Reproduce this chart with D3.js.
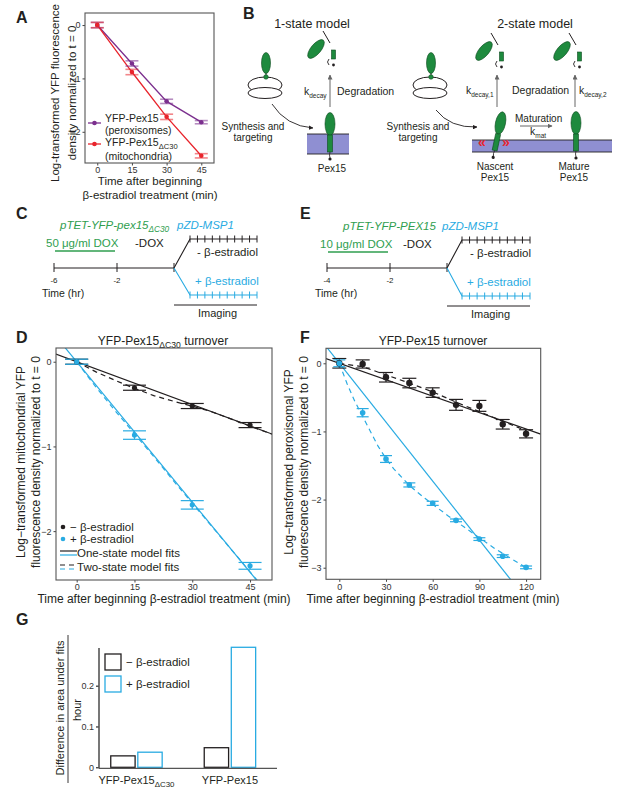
<!DOCTYPE html>
<html>
<head>
<meta charset="utf-8">
<script src="https://cdn.jsdelivr.net/npm/d3@7"></script>
<style>
  body { margin: 0; background: #fff; }
  svg { font-family: "Liberation Sans", Arial, sans-serif; }
</style>
</head>
<body>
<svg id="fig" width="617" height="799"></svg>
<script>
// ---------- data ----------
// A
const timesA = [0, 15, 30, 45];
const pexA = [0, -0.72, -1.43, -1.82];
const pexErrA = [0.05, 0.05, 0.04, 0.03];
const dc30A = [0, -0.88, -1.72, -2.45];
const dc30ErrA = [0.05, 0.05, 0.05, 0.04];

// D
const timesD = [0, 15, 30, 45];
const minusD = [0, -0.307, -0.523, -0.748];
const minusErrD = [0.03, 0.03, 0.03, 0.03];
const plusD = [0, -0.866, -1.69, -2.41];
const plusErrD = [0.03, 0.05, 0.05, 0.04];
const oneFitTD = [-5.4, 50.7];
const oneMinusD = [0.09, -0.854];
const onePlusD = [0.298, -2.8];
const twoFitTD = [0, 5, 10, 15, 20, 25, 30, 35, 40, 45, 50.7];
const twoMinusD = [0, -0.12, -0.22, -0.315, -0.4, -0.465, -0.525, -0.59, -0.675, -0.76, -0.855];
const twoPlusD = [0, -0.3, -0.58, -0.85, -1.12, -1.4, -1.67, -1.94, -2.21, -2.48, -2.79];

// F
const timesF = [0, 15, 30, 45, 60, 75, 90, 105, 120];
const minusF = [0, -0.01, -0.205, -0.29, -0.43, -0.61, -0.625, -0.895, -1.035];
const minusErrF = [0.07, 0.06, 0.07, 0.07, 0.07, 0.08, 0.08, 0.07, 0.06];
const plusF = [0, -0.725, -1.405, -1.785, -2.055, -2.305, -2.58, -2.83, -2.995];
const plusErrF = [0.05, 0.06, 0.05, 0.03, 0.03, 0.02, 0.02, 0.02, 0.02];
const oneFitTF = [-8.6, 129.4];
const oneMinusF = [0.07, -1.04];
const onePlusF = [0.25, -3.73];
const twoMinusTF = [0, 15, 30, 45, 60, 75, 90, 105, 120];
const twoMinusF = [0, -0.05, -0.17, -0.29, -0.42, -0.57, -0.71, -0.85, -0.99];
const twoPlusTF = [0, 5, 10, 15, 20, 25, 30, 35, 40, 45, 50, 55, 60, 70, 80, 90, 100, 110, 120];
const twoPlusF = [0, -0.3, -0.56, -0.78, -1.0, -1.22, -1.4, -1.55, -1.67, -1.79, -1.89, -1.98, -2.07, -2.24, -2.4, -2.56, -2.72, -2.86, -3.0];

// G
const catsG = ["YFP-Pex15ΔC30", "YFP-Pex15"];
const minusG = [0.028, 0.048];
const plusG = [0.037, 0.294];
const ticksG = [0, 0.1, 0.2];

// ---------- styling ----------
const ink = "#231f20";
const purple = "#7b2f8e", red = "#e8242c", blue = "#29abe2";
const green = "#1e8a3e", textGreen = "#2f9e4f", lav = "#8f8fd2";
const fontFam = '"Liberation Sans", Arial, sans-serif';

const svg = d3.select("#fig");
const defs = svg.append("defs");
defs.append("marker").attr("id", "headk").attr("viewBox", "0 0 10 10")
  .attr("refX", 9).attr("refY", 5).attr("markerWidth", 5).attr("markerHeight", 5)
  .attr("orient", "auto")
  .append("path").attr("d", "M0,0L10,5L0,10Z").attr("fill", ink);
defs.append("marker").attr("id", "headg").attr("viewBox", "0 0 10 10")
  .attr("refX", 9).attr("refY", 5).attr("markerWidth", 5).attr("markerHeight", 5)
  .attr("orient", "auto")
  .append("path").attr("d", "M0,0L10,5L0,10Z").attr("fill", "#666");

function txt(x, y, s, size, opt = {}) {
  return svg.append("text").attr("x", x).attr("y", y).attr("font-size", size)
    .attr("fill", opt.fill || ink).attr("text-anchor", opt.anchor || "start")
    .attr("font-weight", opt.bold ? "bold" : null)
    .attr("font-style", opt.italic ? "italic" : null)
    .text(s);
}
// text with subscript part
function subTxt(x, y, main, sub, after, size, opt = {}) {
  const t = svg.append("text").attr("x", x).attr("y", y).attr("font-size", size)
    .attr("fill", opt.fill || ink).attr("text-anchor", opt.anchor || "start")
    .attr("font-style", opt.italic ? "italic" : null);
  t.append("tspan").text(main);
  t.append("tspan").attr("font-size", size * 0.72).attr("dy", size * 0.25).text(sub);
  if (after) t.append("tspan").attr("dy", -size * 0.25).text(after);
  return t;
}
function vlabel(x, y, s, size) {
  return svg.append("text").attr("transform", `translate(${x},${y}) rotate(-90)`)
    .attr("text-anchor", "middle").attr("dy", "0.35em").attr("font-size", size)
    .attr("fill", ink).text(s);
}

// panel letters
[["A", 16, 23], ["B", 243, 19], ["C", 16, 219], ["D", 16, 343], ["E", 300, 219], ["F", 300, 343], ["G", 16, 625]]
  .forEach(([l, x, y]) => txt(x, y, l, 16, { bold: true }));

// ---------- generic scatter panel ----------
let clipN = 0;
const intFmt = d3.format("");
function panel(box, xDom, yDom, xTicks, yTicks) {
  const x = d3.scaleLinear().domain(xDom).range([box.l, box.r]);
  const y = d3.scaleLinear().domain(yDom).range([box.b, box.t]);
  const id = "clip" + (clipN++);
  defs.append("clipPath").attr("id", id).append("rect")
    .attr("x", box.l).attr("y", box.t).attr("width", box.r - box.l).attr("height", box.b - box.t);
  const styleAxis = g => {
    g.select(".domain").remove();
    g.selectAll(".tick line").attr("stroke", "#444");
    g.selectAll(".tick text").attr("font-size", 9).attr("fill", "#333").attr("font-family", fontFam);
  };
  svg.append("g").attr("transform", `translate(0,${box.b})`)
    .call(d3.axisBottom(x).tickValues(xTicks).tickFormat(intFmt).tickSize(2.5).tickPadding(1.5)).call(styleAxis);
  svg.append("g").attr("transform", `translate(${box.l},0)`)
    .call(d3.axisLeft(y).tickValues(yTicks).tickFormat(intFmt).tickSize(2.5).tickPadding(2)).call(styleAxis);
  const g = svg.append("g");
  svg.append("rect").attr("x", box.l).attr("y", box.t).attr("width", box.r - box.l)
    .attr("height", box.b - box.t).attr("fill", "none").attr("stroke", "#555").attr("stroke-width", 1.1);
  return { x, y, g, clip: `url(#${id})` };
}
function curve(p, ts, vs, color, width, dash) {
  p.g.append("path").datum(d3.zip(ts, vs))
    .attr("clip-path", p.clip)
    .attr("d", d3.line().x(d => p.x(d[0])).y(d => p.y(d[1])))
    .attr("fill", "none").attr("stroke", color).attr("stroke-width", width)
    .attr("stroke-dasharray", dash || null);
}
function errs(p, ts, vs, es, color, half, width, opacity) {
  const g = p.g.append("g").attr("stroke", color).attr("stroke-width", width).attr("opacity", opacity);
  d3.zip(ts, vs, es).forEach(([t, v, e]) => {
    const cx = p.x(t);
    g.append("line").attr("x1", cx).attr("x2", cx).attr("y1", p.y(v - e)).attr("y2", p.y(v + e));
    [v - e, v + e].forEach(yy => g.append("line").attr("x1", cx - half).attr("x2", cx + half)
      .attr("y1", p.y(yy)).attr("y2", p.y(yy)));
  });
}
function dots(p, ts, vs, color, r) {
  p.g.selectAll(null).data(d3.zip(ts, vs)).enter().append("circle")
    .attr("cx", d => p.x(d[0])).attr("cy", d => p.y(d[1])).attr("r", r).attr("fill", color);
}

// ---------- Panel A ----------
const pA = panel({ l: 85, r: 214, t: 13, b: 163 }, [-5.3, 50.5], [-2.585, 0.226], timesA, [0, -1, -2]);
curve(pA, timesA, pexA, purple, 1.3);
curve(pA, timesA, dc30A, red, 1.3);
errs(pA, timesA, pexA, pexErrA, purple, 6.5, 1.6, 0.55);
errs(pA, timesA, dc30A, dc30ErrA, red, 6.5, 1.6, 0.55);
dots(pA, timesA, pexA, purple, 2.3);
dots(pA, timesA, dc30A, red, 2.3);
// legend A
[[123, purple], [144, red]].forEach(([yy, c]) => {
  svg.append("line").attr("x1", 88).attr("x2", 101).attr("y1", yy).attr("y2", yy).attr("stroke", c).attr("stroke-width", 1.3);
  svg.append("circle").attr("cx", 94.5).attr("cy", yy).attr("r", 2.3).attr("fill", c);
});
txt(105, 122, "YFP-Pex15", 10.5);
txt(105, 134, "(peroxisomes)", 10.5);
subTxt(105, 146, "YFP-Pex15", "ΔC30", null, 10.5);
txt(105, 160, "(mitochondria)", 10.5);
vlabel(55, 93, "Log-transformed YFP fluorescence", 11.5);
vlabel(72, 93, "density normalized to t = 0", 11.5);
txt(150, 185, "Time after beginning", 11.5, { anchor: "middle" });
txt(150, 198.5, "β-estradiol treatment (min)", 11.5, { anchor: "middle" });

// ---------- Panel B (schematic) ----------
function ribosome(cx, cy) {
  svg.append("ellipse").attr("cx", cx).attr("cy", cy - 3).attr("rx", 17).attr("ry", 8)
    .attr("fill", "#fff").attr("stroke", ink).attr("stroke-width", 1);
  svg.append("ellipse").attr("cx", cx).attr("cy", cy + 5).attr("rx", 17).attr("ry", 5.5)
    .attr("fill", "#fff").attr("stroke", ink).attr("stroke-width", 1);
  svg.append("line").attr("x1", cx + 1).attr("x2", cx + 1).attr("y1", cy - 22).attr("y2", cy - 12)
    .attr("stroke", ink).attr("stroke-width", 1);
  svg.append("ellipse").attr("cx", cx + 1).attr("cy", cy - 25).attr("rx", 4.5).attr("ry", 10.5)
    .attr("fill", green).attr("stroke", "#0d4a1e").attr("stroke-width", 0.6);
  svg.append("circle").attr("cx", cx + 1).attr("cy", cy - 11).attr("r", 2.3).attr("fill", green)
    .attr("stroke", "#0d4a1e").attr("stroke-width", 0.5);
}
function memProtein(cx, top, tilt) {
  const g = svg.append("g").attr("transform", `rotate(${tilt || 0},${cx},${top + 18})`);
  g.append("ellipse").attr("cx", cx).attr("cy", top + 11).attr("rx", 5).attr("ry", 11.5)
    .attr("fill", green).attr("stroke", "#0d4a1e").attr("stroke-width", 0.6);
  g.append("rect").attr("x", cx - 2.5).attr("y", top + 22).attr("width", 5).attr("height", 17)
    .attr("fill", green).attr("stroke", "#0d4a1e").attr("stroke-width", 0.6);
  g.append("path").attr("d", `M${cx},${top + 39} q-1,3 0,6`).attr("fill", "none").attr("stroke", ink).attr("stroke-width", 0.8);
  g.append("circle").attr("cx", cx).attr("cy", top + 46).attr("r", 1.6).attr("fill", ink);
}
function fragments(cx, cy) {
  svg.append("ellipse").attr("cx", cx).attr("cy", cy).attr("rx", 5).attr("ry", 11.5)
    .attr("transform", `rotate(40,${cx},${cy})`)
    .attr("fill", green).attr("stroke", "#0d4a1e").attr("stroke-width", 0.6);
  svg.append("line").attr("x1", cx + 7).attr("y1", cy - 18).attr("x2", cx + 14).attr("y2", cy - 6)
    .attr("stroke", ink).attr("stroke-width", 1);
  svg.append("rect").attr("x", cx + 15.5).attr("y", cy + 1).attr("width", 4).attr("height", 9)
    .attr("fill", green).attr("stroke", "#0d4a1e").attr("stroke-width", 0.6);
  svg.append("circle").attr("cx", cx + 17.5).attr("cy", cy + 16).attr("r", 1.4).attr("fill", ink);
  svg.append("path").attr("d", `M${cx + 13},${cy + 10} q-3,3 0,6`).attr("fill", "none")
    .attr("stroke", ink).attr("stroke-width", 0.9);
}
function membrane(x1, x2, y1, y2) {
  svg.append("rect").attr("x", x1).attr("y", y1).attr("width", x2 - x1).attr("height", y2 - y1).attr("fill", lav);
  [y1, y2].forEach(yy => svg.append("line").attr("x1", x1).attr("x2", x2).attr("y1", yy).attr("y2", yy)
    .attr("stroke", ink).attr("stroke-width", 0.9));
}
function vArrow(x, y1, y2) {
  svg.append("line").attr("x1", x).attr("x2", x).attr("y1", y1).attr("y2", y2)
    .attr("stroke", "#666").attr("stroke-width", 1).attr("marker-end", "url(#headg)");
}
function kLabel(x, y, sub) {
  const t = svg.append("text").attr("x", x).attr("y", y).attr("font-size", 10.5).attr("fill", ink);
  t.append("tspan").text("k");
  t.append("tspan").attr("font-size", 6.5).attr("dy", 3).text(sub);
}

// 1-state
txt(312, 28, "1-state model", 12.5, { anchor: "middle" });
fragments(316, 49);
ribosome(265, 88);
svg.append("path").attr("d", "M272,104 Q286,126 313,128").attr("fill", "none")
  .attr("stroke", ink).attr("stroke-width", 0.9).attr("marker-end", "url(#headk)");
txt(253, 130, "Synthesis and", 10, { anchor: "middle" });
txt(253, 141, "targeting", 10, { anchor: "middle" });
membrane(307, 349, 134, 154);
memProtein(330, 113, 0);
txt(332, 172, "Pex15", 10, { anchor: "middle" });
vArrow(330, 107, 75);
kLabel(304, 95, "decay");
txt(337, 95, "Degradation", 10.5);

// 2-state
txt(535, 28, "2-state model", 12.5, { anchor: "middle" });
fragments(484, 51);
fragments(562, 51);
ribosome(430, 88);
svg.append("path").attr("d", "M436,110 Q450,128 477,127").attr("fill", "none")
  .attr("stroke", ink).attr("stroke-width", 0.9).attr("marker-end", "url(#headk)");
txt(418, 130, "Synthesis and", 10, { anchor: "middle" });
txt(418, 141, "targeting", 10, { anchor: "middle" });
membrane(472, 612, 140, 152);
memProtein(499, 112, 12);
memProtein(576, 112, 0);
txt(478, 147, "«", 14, { fill: red, bold: true });
txt(502, 147, "»", 14, { fill: red, bold: true });
txt(495, 170, "Nascent", 10, { anchor: "middle" });
txt(495, 181, "Pex15", 10, { anchor: "middle" });
txt(574, 170, "Mature", 10, { anchor: "middle" });
txt(574, 181, "Pex15", 10, { anchor: "middle" });
vArrow(497, 107, 75);
vArrow(575, 107, 75);
kLabel(466, 94, "decay,1");
txt(512, 94, "Degradation", 10.5);
kLabel(579, 94, "decay,2");
txt(515, 122, "Maturation", 10);
svg.append("line").attr("x1", 520).attr("x2", 552).attr("y1", 126).attr("y2", 126)
  .attr("stroke", "#666").attr("stroke-width", 1).attr("marker-end", "url(#headg)");
kLabel(530, 135, "mat");

// ---------- Panels C and E (timelines) ----------
function timeline(c) {
  const line = (x1, y1, x2, y2, col, w) => svg.append("line").attr("x1", x1).attr("y1", y1)
    .attr("x2", x2).attr("y2", y2).attr("stroke", col).attr("stroke-width", w || 1);
  line(c.a0, c.ay, c.split, c.ay, ink);
  [c.a0, c.a1, c.split].forEach(xx => line(xx, c.ay - 5, xx, c.ay + 4, ink));
  txt(c.a0, c.ay + 15, c.l0, 8, { anchor: "middle" });
  txt(c.a1, c.ay + 15, c.l1, 8, { anchor: "middle" });
  txt(c.timeX, c.ay + 29, "Time (hr)", 10.5);
  [[c.up, ink], [c.down, blue]].forEach(([yy, col]) => {
    svg.append("path").attr("d", `M${c.split},${c.ay}L${c.bx},${yy}H${c.end}`)
      .attr("fill", "none").attr("stroke", col).attr("stroke-width", 1.1);
    d3.range(10).forEach(i => {
      const xx = c.bx + i * (c.end - c.bx) / 9;
      line(xx, yy - 3.5, xx, yy + 3.5, col);
    });
  });
  txt(c.minusX, c.up + 17, "- β-estradiol", 11.5);
  txt(c.plusX, c.down - 10, "+ β-estradiol", 11.5, { fill: blue });
  line(c.split, c.down + 10, c.end, c.down + 10, ink);
  txt((c.split + c.end) / 2 + 2, c.down + 22, "Imaging", 11, { anchor: "middle" });
  // constructs
  if (c.gsub) subTxt(c.gx, c.gy, c.gene, c.gsub, null, 11.5, { fill: textGreen, italic: true });
  else txt(c.gx, c.gy, c.gene, 11.5, { fill: textGreen, italic: true });
  txt(c.px, c.gy, "pZD-MSP1", 11.5, { fill: blue, italic: true });
  txt(c.dx, c.gy + 18, c.dox, 11.5, { fill: textGreen });
  line(c.u0, c.gy + 22, c.u1, c.gy + 22, textGreen, 1.5);
  txt(c.ndx, c.gy + 18, "-DOX", 11.5);
}
timeline({ a0: 54, a1: 117, split: 174, ay: 268, l0: "-6", l1: "-2", timeX: 42,
  bx: 190, end: 257, up: 239, down: 295, minusX: 197, plusX: 195,
  gene: "pTET-YFP-pex15", gsub: "ΔC30", gx: 60, gy: 229, px: 177,
  dox: "50 μg/ml DOX", dx: 46, u0: 55, u1: 115, ndx: 135 });
timeline({ a0: 327, a1: 390, split: 447, ay: 268, l0: "-4", l1: "-2", timeX: 315,
  bx: 462, end: 530, up: 240, down: 296, minusX: 470, plusX: 467,
  gene: "pTET-YFP-PEX15", gx: 343, gy: 230, px: 442,
  dox: "10 μg/ml DOX", dx: 320, u0: 328, u1: 388, ndx: 403 });

// ---------- Panel D ----------
subTxt(163, 345, "YFP-Pex15", "ΔC30", " turnover", 12, { anchor: "middle" });
const pD = panel({ l: 56, r: 272, t: 348, b: 580 }, [-5.37, 50.7], [-2.577, 0.162], timesD, [0, -1, -2]);
curve(pD, oneFitTD, oneMinusD, ink, 1.2);
curve(pD, twoFitTD, twoMinusD, ink, 1.2, "5,4");
curve(pD, oneFitTD, onePlusD, blue, 1.2);
curve(pD, twoFitTD, twoPlusD, blue, 1.2, "5,4");
errs(pD, timesD, minusD, minusErrD, ink, 11.5, 1.2, 1);
errs(pD, timesD, plusD, plusErrD, blue, 11.5, 1.2, 1);
dots(pD, timesD, minusD, ink, 2.6);
dots(pD, timesD, plusD, blue, 2.6);
// legend D
svg.append("circle").attr("cx", 63).attr("cy", 527).attr("r", 2.3).attr("fill", ink);
svg.append("circle").attr("cx", 63).attr("cy", 539).attr("r", 2.3).attr("fill", blue);
txt(70, 531, "− β-estradiol", 11.5);
txt(70, 543, "+ β-estradiol", 11.5);
[[551, ink, null], [555, blue, null], [565, ink, "5,4"], [569, blue, "5,4"]].forEach(([yy, c, d]) =>
  svg.append("line").attr("x1", 60).attr("x2", 77).attr("y1", yy).attr("y2", yy)
    .attr("stroke", c).attr("stroke-width", 1.2).attr("stroke-dasharray", d));
txt(77, 557, "One-state model fits", 11.5);
txt(77, 571, "Two-state model fits", 11.5);
vlabel(21, 462, "Log−transformed mitochondrial YFP", 12);
vlabel(36, 462, "fluorescence density normalized to t = 0", 12);
txt(164, 603, "Time after beginning β-estradiol treatment (min)", 12, { anchor: "middle" });

// ---------- Panel F ----------
txt(433, 345, "YFP-Pex15 turnover", 12, { anchor: "middle" });
const pF = panel({ l: 326, r: 540.7, t: 348.3, b: 579.3 }, [-8.55, 129.4], [-3.17, 0.22],
  [0, 30, 60, 90, 120], [0, -1, -2, -3]);
curve(pF, oneFitTF, oneMinusF, ink, 1.2);
curve(pF, twoMinusTF, twoMinusF, ink, 1.2, "5,4");
curve(pF, oneFitTF, onePlusF, blue, 1.2);
curve(pF, twoPlusTF, twoPlusF, blue, 1.2, "5,4");
errs(pF, timesF, minusF, minusErrF, ink, 7, 1.2, 1);
errs(pF, timesF, plusF, plusErrF, blue, 6, 1.2, 1);
dots(pF, timesF, minusF, ink, 3.2);
dots(pF, timesF, plusF, blue, 2.8);
vlabel(289, 462, "Log−transformed peroxisomal YFP", 12);
vlabel(304, 462, "fluorescence density normalized to t = 0", 12);
txt(433, 603, "Time after beginning β-estradiol treatment (min)", 12, { anchor: "middle" });

// ---------- Panel G ----------
const yG = d3.scaleLinear().domain([0, 0.293]).range([767.3, 647.7]);
const xG = d3.scaleBand().domain(catsG).range([99, 277]).paddingInner(0.45).paddingOuter(0.177).align(0.355);
const xSub = d3.scaleBand().domain(["minus", "plus"]).range([0, xG.bandwidth()]).paddingInner(0.1);
const gG = svg.append("g");
catsG.forEach((c, i) => {
  [["minus", minusG[i], ink], ["plus", plusG[i], blue]].forEach(([k, v, col]) => {
    gG.append("rect").attr("x", xG(c) + xSub(k)).attr("y", yG(v))
      .attr("width", xSub.bandwidth()).attr("height", yG(0) - yG(v))
      .attr("fill", "none").attr("stroke", col).attr("stroke-width", 1.3);
  });
});
svg.append("g").attr("transform", "translate(99,0)")
  .call(d3.axisLeft(yG).tickValues(ticksG).tickFormat(d3.format("")).tickSize(3).tickPadding(2))
  .call(g => {
    g.select(".domain").remove();
    g.selectAll(".tick text").attr("font-size", 9).attr("fill", "#333").attr("font-family", fontFam);
  });
svg.append("line").attr("x1", 99).attr("x2", 99).attr("y1", 648).attr("y2", 768.3)
  .attr("stroke", "#555").attr("stroke-width", 1.6);
svg.append("line").attr("x1", 99).attr("x2", 277).attr("y1", 768.3).attr("y2", 768.3)
  .attr("stroke", "#555").attr("stroke-width", 1.3);
subTxt(xG(catsG[0]) + xG.bandwidth() / 2, 784, "YFP-Pex15", "ΔC30", null, 11, { anchor: "middle" });
txt(xG(catsG[1]) + xG.bandwidth() / 2, 784, catsG[1], 11, { anchor: "middle" });
// legend G
[[662, ink, "− β-estradiol"], [684, blue, "+ β-estradiol"]].forEach(([yy, col, s]) => {
  svg.append("rect").attr("x", 105).attr("y", yy - 8).attr("width", 16).attr("height", 16)
    .attr("fill", "none").attr("stroke", col).attr("stroke-width", 1.3);
  txt(126, yy + 4, s, 11.5);
});
vlabel(60, 708, "Difference in area under fits", 11);
svg.append("line").attr("x1", 68).attr("x2", 68).attr("y1", 635).attr("y2", 783)
  .attr("stroke", ink).attr("stroke-width", 0.9);
vlabel(77, 710, "hour", 11);
</script>
</body>
</html>
